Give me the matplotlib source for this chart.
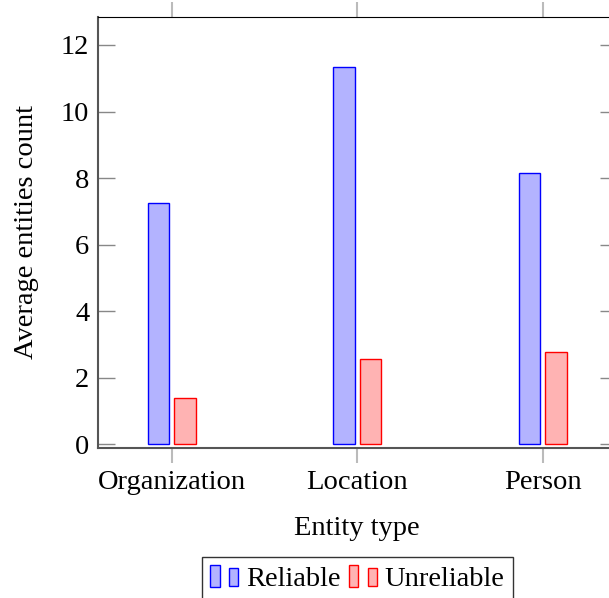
import matplotlib.pyplot as plt
from matplotlib.patches import Rectangle
from matplotlib.legend_handler import HandlerBase
import numpy as np

plt.rcParams['font.family'] = ['Liberation Serif', 'DejaVu Serif']
plt.rcParams['font.size'] = 20.5

categories = ['Organization', 'Location', 'Person']
reliable = [7.26, 11.35, 8.16]
unreliable = [1.39, 2.58, 2.78]


class TwoBarHandler(HandlerBase):
    # pgfplots-style legend image: two small bars
    def create_artists(self, legend, orig_handle, xdescent, ydescent,
                       width, height, fontsize, trans):
        fc = orig_handle.get_facecolor()
        ec = orig_handle.get_edgecolor()
        w = width * 0.3
        h1 = height * 1.1
        h2 = height * 0.9
        r1 = Rectangle((-xdescent, -ydescent - 0.05 * height), w, h1,
                       facecolor=fc, edgecolor=ec, lw=1, transform=trans)
        r2 = Rectangle((-xdescent + width * 0.6, -ydescent), w, h2,
                       facecolor=fc, edgecolor=ec, lw=1, transform=trans)
        return [r1, r2]


fig = plt.figure(figsize=(6.09, 5.98), dpi=100)
ax = fig.add_axes([0.1604, 0.2513, 0.8526, 0.7203])

x = np.arange(len(categories))
bw = 0.116
off = 0.072
b1 = ax.bar(x - off, reliable, bw, color='#b3b3ff', edgecolor='blue', lw=1, label='Reliable')
b2 = ax.bar(x + off, unreliable, bw, color='#ffb3b3', edgecolor='red', lw=1, label='Unreliable')

ax.set_xlim(-0.4, 2.4)
ax.set_ylim(-0.1, 12.84)
ax.set_xticks(x)
ax.set_xticklabels(categories)
ax.set_yticks([0, 2, 4, 6, 8, 10, 12])
ax.tick_params(axis='y', direction='in', left=True, right=True, length=12, color='#888888', width=1, pad=6)
ax.tick_params(axis='x', direction='out', top=True, bottom=True, length=11, color='#bbbbbb', width=1.5, pad=5)
for s in ['left', 'bottom']:
    ax.spines[s].set_color('#555555')
    ax.spines[s].set_linewidth(1.5)
ax.spines['top'].set_color('black')

ax.set_xlabel('Entity type', labelpad=15)
ax.set_ylabel('Average entities count', labelpad=16)

leg = ax.legend(handles=[b1.patches[0], b2.patches[0]], labels=['Reliable', 'Unreliable'],
                handler_map={Rectangle: TwoBarHandler()},
                loc='upper center', bbox_to_anchor=(0.5, -0.254), ncol=2,
                frameon=True, fancybox=False, edgecolor='black',
                handlelength=1.1, handletextpad=0.15, columnspacing=0.3,
                borderpad=0.3, borderaxespad=0)
leg.get_frame().set_linewidth(1)

fig.savefig('out.png', dpi=100)
